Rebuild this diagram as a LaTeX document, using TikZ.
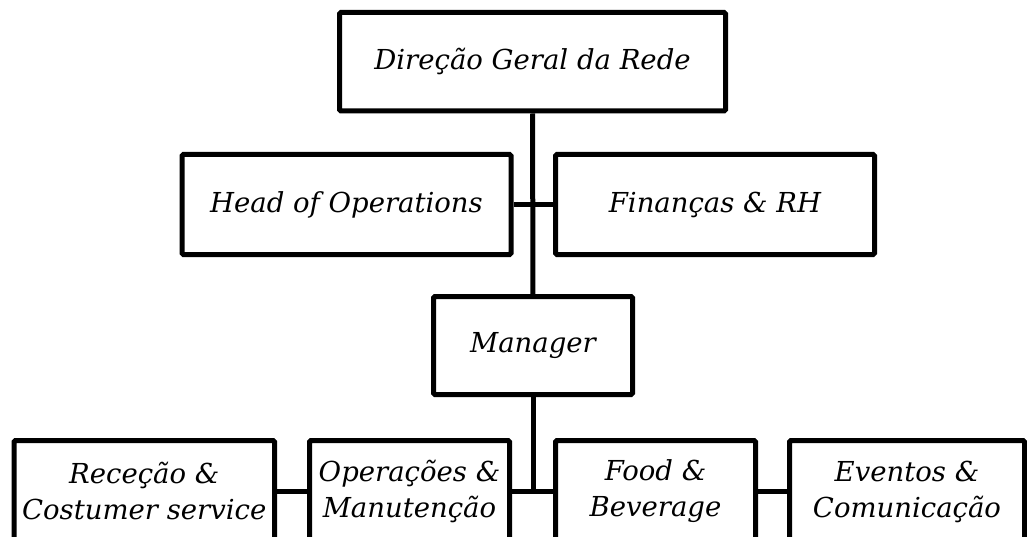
\documentclass[tikz,border=0pt]{standalone}
\usepackage{fontspec}
\setmainfont{DejaVu Serif}
\begin{document}
\begin{tikzpicture}[x=1pt,y=-1pt,line width=5pt,every node/.style={rectangle,draw=black,line width=5pt,rounded corners=1.5pt,align=center,inner sep=0pt,font=\fontsize{27.5}{36}\selectfont\itshape}]
  \useasboundingbox (0,0) rectangle (1027,537);
  \clip (0,0) rectangle (1027,537);
  \node[minimum width=386,minimum height=98.5] (D) at (532.5,61.75) {Direção Geral da Rede};
  \node[minimum width=329,minimum height=100] (H) at (346.5,204.5) {Head of Operations};
  \node[minimum width=319,minimum height=100] (F) at (715,204.5) {Finanças \& RH};
  \node[minimum width=199,minimum height=98] (M) at (533,345.5) {Manager};
  \node[minimum width=260.5,minimum height=102] (B1) at (144.25,491.5) {Receção \&\\Costumer service};
  \node[minimum width=200,minimum height=102] (B2) at (409.5,491.5) {Operações \&\\Manutenção};
  \node[minimum width=200,minimum height=102] (B3) at (655.5,491.5) {Food \&\\Beverage};
  \node[minimum width=235,minimum height=102] (B4) at (907,491.5) {Eventos \&\\Comunicação};
  \draw (D) -- (M);
  \draw (H) -- (F);
  \draw (M) -- (M |- B2.east);
  \draw (B1) -- (B2);
  \draw (B2) -- (B3);
  \draw (B3) -- (B4);
\end{tikzpicture}
\end{document}
